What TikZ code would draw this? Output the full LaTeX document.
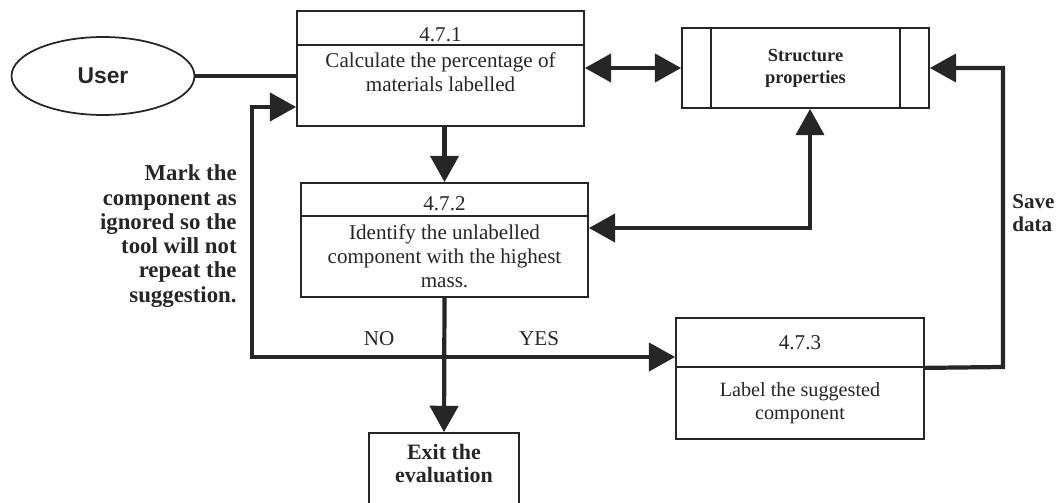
\documentclass[tikz,border=0pt]{standalone}
\usepackage{fontspec}
\setmainfont{Liberation Serif}
\newfontfamily\usrfont{Liberation Sans}
\usetikzlibrary{arrows.meta,positioning,shapes.geometric}

\begin{document}
\begin{tikzpicture}[
  x=0.02cm, y=-0.02cm, color=black!85,
  box/.style={draw,line width=1pt,align=center,inner sep=2pt,font=\fontsize{12}{13.6}\selectfont},
  bbox/.style={box,font=\fontsize{11}{13}\selectfont\bfseries},
  flow/.style={line width=2.4pt},
  onehead/.style={-{Triangle[length=15pt,width=16pt]}},
  twohead/.style={{Triangle[length=15pt,width=16pt]}-{Triangle[length=15pt,width=16pt]}},
  note/.style={inner sep=0pt,font=\fontsize{13}{13.8}\selectfont\bfseries}
]
  \useasboundingbox (0,0) rectangle (1058,503);

  \node[draw,ellipse,line width=1pt,minimum width=3.66cm,minimum height=1.56cm,
    font=\usrfont\fontsize{13}{15}\selectfont\bfseries] (user) at (103,76) {User};

  % 4.7.1
  \node[box,minimum width=5.74cm,minimum height=0.68cm,inner ysep=0pt,text height=15.5pt,text depth=0pt]
    (calchead) at (440.5,28) {4.7.1};
  \node[box,minimum width=5.74cm,minimum height=1.62cm] (calc) at (440.5,85.5) {};
  \node[align=center,font=\fontsize{12}{13.6}\selectfont] (calctext) at (440.5,72.5)
    {Calculate the percentage of\\materials labelled};

  % data store
  \node[bbox,minimum width=4.94cm,minimum height=1.6cm,font=\fontsize{10.5}{12.5}\selectfont\bfseries]
    (struct) at (805.5,68) {Structure\\properties};
  \draw[line width=1pt] ([xshift=0.6cm]struct.north west) -- ([xshift=0.6cm]struct.south west);
  \draw[line width=1pt] ([xshift=-0.6cm]struct.north east) -- ([xshift=-0.6cm]struct.south east);

  % 4.7.2
  \node[box,minimum width=5.74cm,minimum height=0.66cm,inner ysep=0pt,text height=13pt,text depth=0pt]
    (idhead) at (444.5,199.5) {4.7.2};
  \node[box,minimum width=5.74cm,minimum height=1.62cm] (id) at (444.5,256.5)
    {Identify the unlabelled\\component with the highest\\mass.};

  \node[bbox,minimum width=3cm,minimum height=1.6cm,text depth=10.5pt,
    font=\fontsize{12.5}{13}\selectfont\bfseries] (exit) at (444,473) {Exit the\\evaluation};

  % 4.7.3
  \node[box,minimum width=4.96cm,minimum height=0.98cm] (lblhead) at (800,342.5) {4.7.3};
  \node[box,minimum width=4.96cm,minimum height=1.44cm,font=\fontsize{11.5}{13}\selectfont]
    (lbl) at (800,403) {Label the suggested\\component};

  \coordinate (fork) at (444.5,357);
  \coordinate (noturn) at (252,357);
  \coordinate (saveturn) at (1003,367);

  \draw[flow] (user.east) -- (user.east -| calc.west);
  \draw[flow,twohead] (calc.east |- struct.west) -- (struct.west);
  \draw[flow,onehead] (calc.south -| idhead.north) -- (idhead.north);
  \draw[flow,twohead] ([yshift=0.57cm]id.east) -| ([xshift=0.09cm]struct.south);
  \draw[flow,onehead] (id.south) -- (exit.north);
  \draw[flow,onehead] (fork) -- node[above=2pt,pos=.41,font=\fontsize{12}{14}\selectfont]{YES} (fork -| lblhead.west);
  \draw[flow,onehead] (fork) -- node[above=2pt,pos=.34,font=\fontsize{12}{14}\selectfont]{NO} (noturn)
    |- ([yshift=-0.43cm]calc.west);
  \draw[flow,onehead] (lblhead.south east) -- (saveturn) |- (struct.east);

  \node[note,align=left,anchor=west,font=\fontsize{12}{13}\selectfont\bfseries] (savenote) at (1012,213.5) {Save\\data};
  \node[note,align=right,anchor=east] (marknote) at (237,236)
    {Mark the\\component as\\ignored so the\\tool will not\\repeat the\\suggestion.};
\end{tikzpicture}
\end{document}
